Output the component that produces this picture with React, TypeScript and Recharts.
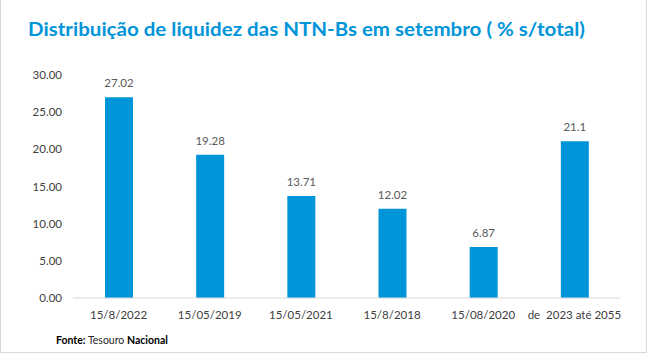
import React from 'react';
import { BarChart, Bar, XAxis, YAxis, LabelList } from 'recharts';

const categories = ['15/8/2022', '15/05/2019', '15/05/2021', '15/8/2018', '15/08/2020', 'de \u00a02023 até 2055'];
const values = [27.02, 19.28, 13.71, 12.02, 6.87, 21.1];
const yTicks = [0, 5, 10, 15, 20, 25, 30];

const data = categories.map((name, i) => ({ name, value: values[i] }));

const BLUE = '#0094D9';
const FONT = 'Lato, "Open Sans", sans-serif';

export default function App() {
  return (
    <div
      style={{
        position: 'absolute',
        left: 0,
        top: 0,
        width: 650,
        height: 355,
        background: '#fff',
        fontFamily: FONT,
      }}
    >
      {/* frame */}
      <div
        style={{
          position: 'absolute',
          left: 0,
          top: 0,
          width: 645,
          height: 352,
          borderLeft: '1px solid #d9d9d9',
          borderRight: '1px solid #d9d9d9',
          borderBottom: '1px solid #d9d9d9',
        }}
      />
      <svg width={650} height={50} style={{ position: 'absolute', left: 0, top: 0 }}>
        <text
          x={28}
          y={36}
          fill={BLUE}
          fontFamily={FONT}
          fontWeight={700}
          fontSize={18}
          textLength={557}
          lengthAdjust="spacingAndGlyphs"
        >
          Distribuição de liquidez das NTN-Bs em setembro ( % s/total)
        </text>
      </svg>
      <BarChart
        width={650}
        height={355}
        data={data}
        margin={{ top: 75, right: 30, bottom: 0, left: 0 }}
        style={{ position: 'absolute', left: 0, top: 0 }}
      >
        <XAxis
          dataKey="name"
          axisLine={{ stroke: '#d9d9d9', strokeWidth: 1 }}
          tickLine={false}
          tickSize={0}
          tickMargin={13}
          height={57}
          interval={0}
          tick={{ fill: '#404040', fontSize: 11.5, fontFamily: FONT }}
        />
        <YAxis
          domain={[0, 30]}
          ticks={yTicks}
          width={73}
          axisLine={false}
          tickLine={false}
          tickSize={0}
          tickMargin={11}
          tickFormatter={(v: number) => v.toFixed(2)}
          tick={{ fill: '#404040', fontSize: 11.5, fontFamily: FONT }}
        />
        <Bar dataKey="value" fill={BLUE} barSize={28} isAnimationActive={false}>
          <LabelList
            dataKey="value"
            position="top"
            offset={10}
            fill="#595959"
            fontSize={11.5}
            fontFamily={FONT}
          />
        </Bar>
      </BarChart>
      <div
        style={{
          position: 'absolute',
          left: 56,
          top: 334,
          fontSize: 10.5,
          color: '#000',
          fontFamily: FONT,
          whiteSpace: 'nowrap',
        }}
      >
        <span style={{ fontWeight: 700 }}>Fonte:</span> <span style={{ color: '#262626' }}>Tesouro</span>{' '}
        <span style={{ fontWeight: 700 }}>Nacional</span>
      </div>
    </div>
  );
}
